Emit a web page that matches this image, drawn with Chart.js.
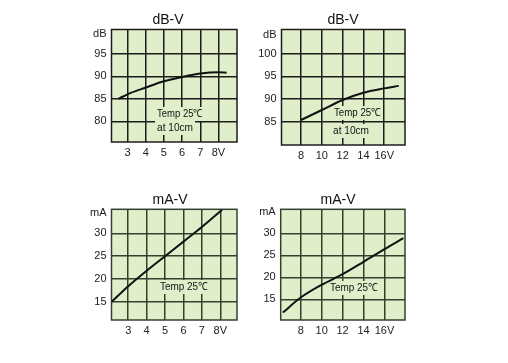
<!DOCTYPE html>
<html>
<head>
<meta charset="utf-8">
<script src="https://cdn.jsdelivr.net/npm/chart.js@4.4.1/dist/chart.umd.min.js"></script>
<style>
  html, body { margin: 0; padding: 0; background: #fff; width: 508px; height: 363px; overflow: hidden; }
  canvas { position: absolute; }
</style>
</head>
<body>
<canvas id="dbLow" width="180" height="180" style="left:70px;top:0px"></canvas>
<canvas id="dbHigh" width="180" height="180" style="left:250px;top:0px"></canvas>
<canvas id="maLow" width="180" height="180" style="left:70px;top:180px"></canvas>
<canvas id="maHigh" width="180" height="180" style="left:250px;top:180px"></canvas>
<script>
// dB-V, 3..8 V model
const dbLowVolts = [2.5, 3, 4, 5, 6, 7, 8, 8.45];
const dbLowValues = [85, 86, 87.5, 88.9, 89.85, 90.6, 90.9, 90.8];
const dbLowXTicks = [3, 4, 5, 6, 7, 8];
const dbLowXLabels = ["3", "4", "5", "6", "7", "8V"];
const dbLowYTicks = [80, 85, 90, 95, 99.4];
const dbLowYLabels = ["80", "85", "90", "95", "dB"];

// dB-V, 8..16 V model
const dbHighVolts = [8, 10, 12, 14, 16, 17.4];
const dbHighValues = [85.4, 87.6, 89.8, 91.4, 92.35, 92.9];
const dbHighXTicks = [8, 10, 12, 14, 16];
const dbHighXLabels = ["8", "10", "12", "14", "16V"];
const dbHighYTicks = [85, 90, 95, 100, 104.2];
const dbHighYLabels = ["85", "90", "95", "100", "dB"];

// mA-V, 3..8 V model
const maLowVolts = [2.1, 3, 4, 5, 6, 7, 8.1];
const maLowValues = [15, 18.4, 21.8, 25, 28.2, 31.4, 35.2];
const maLowXTicks = [3, 4, 5, 6, 7, 8];
const maLowXLabels = ["3", "4", "5", "6", "7", "8V"];
const maLowYTicks = [15, 20, 25, 30, 34.5];
const maLowYLabels = ["15", "20", "25", "30", "mA"];

// mA-V, 8..16 V model
const maHighVolts = [6.3, 8, 10, 12, 14, 16, 17.8];
const maHighValues = [12, 15.4, 18.3, 20.7, 23.5, 26.4, 28.9];
const maHighXTicks = [8, 10, 12, 14, 16];
const maHighXLabels = ["8", "10", "12", "14", "16V"];
const maHighYTicks = [15, 20, 25, 30, 34.8];
const maHighYLabels = ["15", "20", "25", "30", "mA"];

const PLOT_BG = "#e0efca";
const TICK_FONT = { family: "'Liberation Sans', Arial, sans-serif", size: 11 };

function makeChart(id, cfg) {
  const el = document.getElementById(id);
  const cx = parseFloat(el.style.left), cy = parseFloat(el.style.top);
  const W = el.width, H = el.height;
  const b = cfg.box;
  const lastY = cfg.yTicks.length - 1;

  const decor = {
    id: "decor",
    beforeDraw(chart) {
      const a = chart.chartArea, ctx = chart.ctx;
      ctx.save();
      ctx.fillStyle = PLOT_BG;
      ctx.fillRect(a.left, a.top, a.right - a.left, a.bottom - a.top);
      ctx.restore();
    },
    beforeDatasetsDraw(chart) {
      const a = chart.chartArea, ctx = chart.ctx;
      ctx.save();
      // label boxes hide the grid under the text
      cfg.notes.forEach(n => {
        ctx.fillStyle = PLOT_BG;
        ctx.fillRect(n.x - cx - 2, n.y - cy - 7, n.w + 4, 14);
      });
      ctx.fillStyle = "#111";
      ctx.font = "11px 'Liberation Sans', Arial, sans-serif";
      ctx.textBaseline = "middle";
      cfg.notes.forEach(n => ctx.fillText(n.text, n.x - cx, n.y - cy, n.w));
      // frame
      ctx.strokeStyle = cfg.grid;
      ctx.lineWidth = 1.5;
      ctx.strokeRect(a.left, a.top, a.right - a.left, a.bottom - a.top);
      ctx.restore();
    },
    afterDraw(chart) {
      const ctx = chart.ctx;
      ctx.save();
      ctx.fillStyle = "#111";
      ctx.font = "14px 'Liberation Sans', Arial, sans-serif";
      ctx.textAlign = "center";
      ctx.textBaseline = "middle";
      ctx.fillText(cfg.title, cfg.titleX - cx, cfg.titleY - cy);
      ctx.restore();
    }
  };

  return new Chart(el, {
    type: "scatter",
    data: {
      datasets: [{
        data: cfg.x.map((v, i) => ({ x: v, y: cfg.y[i] })),
        showLine: true,
        borderColor: "#111",
        borderWidth: 2,
        pointRadius: 0,
        cubicInterpolationMode: "monotone"
      }]
    },
    options: {
      responsive: false,
      animation: false,
      events: [],
      layout: { padding: { left: 0, top: b.top - cy, right: cx + W - b.right, bottom: 0 } },
      plugins: { legend: { display: false }, tooltip: { enabled: false } },
      scales: {
        x: {
          type: "linear",
          min: cfg.xMin,
          max: cfg.xMax,
          afterBuildTicks: s => { s.ticks = cfg.xTicks.map(v => ({ value: v })); },
          afterFit: s => { s.height = cy + H - b.bottom; },
          ticks: { autoSkip: false, maxRotation: 0, padding: 4, color: "#222", font: TICK_FONT,
                   callback: (v, i) => cfg.xLabels[i] },
          grid: { color: cfg.grid, lineWidth: 1.5, drawTicks: false },
          border: { display: false }
        },
        y: {
          type: "linear",
          min: cfg.yMin,
          max: cfg.yMax,
          afterBuildTicks: s => { s.ticks = cfg.yTicks.map(v => ({ value: v })); },
          afterFit: s => { s.width = b.left - cx; },
          ticks: { autoSkip: false, padding: 5, color: "#222", font: TICK_FONT,
                   callback: (v, i) => cfg.yLabels[i] },
          grid: { color: c => c.index === lastY ? "rgba(0,0,0,0)" : cfg.grid, lineWidth: 1.5, drawTicks: false },
          border: { display: false }
        }
      }
    },
    plugins: [decor]
  });
}

makeChart("dbLow", {
  x: dbLowVolts, y: dbLowValues,
  xTicks: dbLowXTicks, xLabels: dbLowXLabels, yTicks: dbLowYTicks, yLabels: dbLowYLabels,
  xMin: 2.12, xMax: 9.02, yMin: 75.4, yMax: 100.4,
  box: { left: 111.5, top: 29.5, right: 237, bottom: 142 },
  grid: "#1c1c1c",
  title: "dB-V", titleX: 168, titleY: 20,
  notes: [{ text: "Temp 25\u2103", x: 157, y: 114, w: 46 }, { text: "at 10cm", x: 157, y: 128, w: 36 }]
});

makeChart("dbHigh", {
  x: dbHighVolts, y: dbHighValues,
  xTicks: dbHighXTicks, xLabels: dbHighXLabels, yTicks: dbHighYTicks, yLabels: dbHighYLabels,
  xMin: 6.12, xMax: 18.0, yMin: 79.9, yMax: 105.3,
  box: { left: 281.5, top: 29.5, right: 405, bottom: 145 },
  grid: "#1c1c1c",
  title: "dB-V", titleX: 343, titleY: 20,
  notes: [{ text: "Temp 25\u2103", x: 334, y: 113, w: 47 }, { text: "at 10cm", x: 333, y: 131, w: 36 }]
});

makeChart("maLow", {
  x: maLowVolts, y: maLowValues,
  xTicks: maLowXTicks, xLabels: maLowXLabels, yTicks: maLowYTicks, yLabels: maLowYLabels,
  xMin: 2.09, xMax: 8.91, yMin: 11.0, yMax: 35.3,
  box: { left: 111.5, top: 209.3, right: 237, bottom: 320 },
  grid: "#34402c",
  title: "mA-V", titleX: 170, titleY: 200.5,
  notes: [{ text: "Temp 25\u2103", x: 160, y: 287, w: 48 }]
});

makeChart("maHigh", {
  x: maHighVolts, y: maHighValues,
  xTicks: maHighXTicks, xLabels: maHighXLabels, yTicks: maHighYTicks, yLabels: maHighYLabels,
  xMin: 6.09, xMax: 17.96, yMin: 10.3, yMax: 35.45,
  box: { left: 280.7, top: 209.3, right: 405, bottom: 320 },
  grid: "#34402c",
  title: "mA-V", titleX: 338, titleY: 200.5,
  notes: [{ text: "Temp 25\u2103", x: 330, y: 288, w: 48 }]
});
</script>
</body>
</html>
